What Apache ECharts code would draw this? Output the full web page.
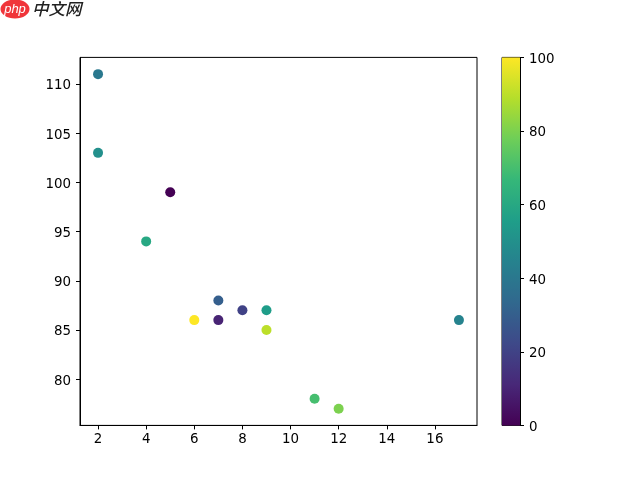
<!DOCTYPE html>
<html><head><meta charset="utf-8">
<style>html,body{margin:0;padding:0;background:#fff}#c{width:640px;height:478px}</style>
<script src="https://cdn.jsdelivr.net/npm/echarts@6/dist/echarts.min.js"></script>
</head><body><div id="c"></div>
<script>
const xValues = [5,7,8,7,2,17,2,9,4,11,12,9,6];
const yValues = [99,86,87,88,111,86,103,87,94,78,77,85,86];
const colorValues = [0,10,20,30,40,45,50,55,60,70,80,90,100];
const xTicks = [2,4,6,8,10,12,14,16];
const yTicks = [80,85,90,95,100,105,110];
const barTicks = [0,20,40,60,80,100];
const viridis = ['#440154','#482878','#3e4989','#31688e','#26828e','#1f9e89','#35b779','#6ece58','#b5de2b','#fde725'];
const font = 'DejaVu Sans';
const fs = 13.4;
const chart = echarts.init(document.getElementById('c'), null, {renderer:'canvas'});
const axisBase = {
  axisLine:{show:true,onZero:false,lineStyle:{color:'#000',width:1}},
  axisTick:{show:true,length:4,inside:false,lineStyle:{color:'#000',width:1}},
  axisLabel:{color:'#000',fontFamily:font,fontSize:fs,margin:7},
  splitLine:{show:false}
};
const yLabel = {...axisBase.axisLabel,margin:9,formatter:'{a|{value}}',rich:{a:{color:'#000',fontFamily:font,fontSize:fs,padding:[4,0,0,0]}}};
chart.setOption({
  animation:false,
  backgroundColor:'#fff',
  grid:[
    {left:80,top:57.4,width:397,height:368,show:true,borderColor:'#000',borderWidth:1,backgroundColor:'transparent'},
    {left:502,top:57.4,width:18,height:368,show:true,borderColor:'#000',borderWidth:1,backgroundColor:'transparent'}
  ],
  xAxis:[
    {...axisBase,type:'value',gridIndex:0,min:1.25,max:17.75,
     axisTick:{...axisBase.axisTick,customValues:xTicks},
     axisLabel:{...axisBase.axisLabel,margin:8,customValues:xTicks}},
    {type:'category',gridIndex:1,data:['c'],axisLine:{show:false},axisTick:{show:false},axisLabel:{show:false}}
  ],
  yAxis:[
    {...axisBase,type:'value',gridIndex:0,min:75.3,max:112.7,
     axisTick:{...axisBase.axisTick,customValues:yTicks},
     axisLabel:{...yLabel,customValues:yTicks}},
    {...axisBase,type:'value',gridIndex:1,position:'right',min:0,max:100,interval:20,
     axisLabel:{...yLabel,customValues:barTicks},
     axisTick:{...axisBase.axisTick,customValues:barTicks}}
  ],
  visualMap:{show:false,type:'continuous',min:0,max:100,dimension:2,seriesIndex:0,inRange:{color:viridis}},
  series:[
    {type:'scatter',xAxisIndex:0,yAxisIndex:0,symbolSize:10,
     data:xValues.map((x,i)=>[x,yValues[i],colorValues[i]]),itemStyle:{opacity:1}},
    {type:'bar',xAxisIndex:1,yAxisIndex:1,barWidth:'100%',z:1,data:[100],
     itemStyle:{color:new echarts.graphic.LinearGradient(0,1,0,0,viridis.map((c,i)=>({offset:i/(viridis.length-1),color:c})))}}
  ],
  graphic:[
    {type:'ellipse',shape:{cx:15,cy:9,rx:14.5,ry:9.5},style:{fill:'#f0353a'},z:10},
    {type:'text',x:15,y:9,style:{text:'php',fill:'#fff',font:'italic 13px "Liberation Sans"',align:'center',verticalAlign:'middle'},z:11},
    {type:'text',x:32,y:9,style:{text:'中文网',fill:'#222',font:'italic 500 16.5px "Noto Sans CJK SC"',align:'left',verticalAlign:'middle'},z:11}
  ]
});
</script></body></html>
